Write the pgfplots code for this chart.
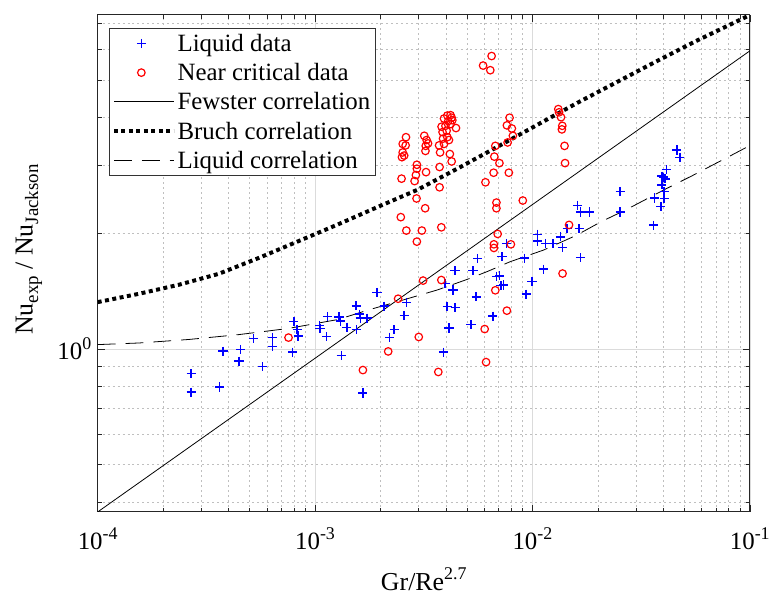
\documentclass[border=0pt]{standalone}
\usepackage{fontspec}
\setmainfont{Liberation Serif}
\usepackage{pgfplots}
\pgfplotsset{compat=1.18}
\newcommand\tsup[1]{\raisebox{0.42em}{\fontsize{18}{18}\selectfont #1}}
\newcommand\tsub[1]{\raisebox{-0.22em}{\fontsize{19}{19}\selectfont #1}}
\begin{document}
\begin{tikzpicture}
\begin{axis}[
  name=ax,
  scale only axis, width=656pt, height=500pt,
  xmode=log, ymode=log,
  xmin=1e-4, xmax=1e-1, ymin=0.377, ymax=7.38,
  xtick={1e-4,1e-3,1e-2,1e-1},
  xticklabels={10\tsup{-4},10\tsup{-3},10\tsup{-2},10\tsup{-1}},
  minor xtick={2e-4,3e-4,4e-4,5e-4,6e-4,7e-4,8e-4,9e-4,2e-3,3e-3,4e-3,5e-3,6e-3,7e-3,8e-3,9e-3,2e-2,3e-2,4e-2,5e-2,6e-2,7e-2,8e-2,9e-2},
  ytick={1}, yticklabels={10\tsup{0}},
  minor ytick={0.4,0.5,0.6,0.7,0.8,0.9,2,3,4,5,6,7},
  tick align=inside, major tick length=7pt, minor tick length=4pt,
  grid=both,
  major grid style={line width=0.6pt, draw=black!14},
  minor grid style={line width=0.6pt, draw=black!25, dash pattern=on 2pt off 3pt},
  axis line style={line width=0.9pt, draw=black!85},
  every tick/.style={black!85, line width=0.6pt},
  tick label style={font=\fontsize{25}{28}\selectfont},
  xticklabel shift=12pt,
  yticklabel shift=3pt,
  every axis x label/.style={at={(axis description cs:0.5,-0.158)}, anchor=base, font=\fontsize{26}{30}\selectfont},
  every axis y label/.style={at={(axis description cs:-0.1056,0.528)}, rotate=90, anchor=center, font=\fontsize{26}{30}\selectfont},
  xlabel={Gr/Re\tsup{2.7}},
  ylabel={Nu\tsub{exp} / Nu\tsub{Jackson}},
  legend cell align=left,
  legend style={at={(0.0168,0.9734)}, anchor=north west, draw=black!80, line width=0.8pt,
    fill=white, font=\fontsize{25}{29}\selectfont, inner xsep=3pt, inner ysep=3.5pt, row sep=6.6pt},
  legend image code/.code={\draw[mark repeat=2,mark phase=2,#1] plot coordinates {(0pt,0pt) (27.5pt,0pt) (55pt,0pt)}; \path (0pt,0pt) -- (60pt,0pt);},
]
\addplot[only marks, mark=+, mark size=4.6pt, color=blue, line width=1.5pt,
  dash pattern=on 0pt off 80pt, mark options={solid, draw=blue, line width=1.5pt}] coordinates {
(2.69e-4,0.862) (2.69e-4,0.772) (3.64e-4,0.796) (3.77e-4,0.986) (4.55e-4,0.996)
(4.47e-4,0.929) (5.72e-4,0.899) (5.21e-4,1.064) (6.36e-4,1.072) (6.36e-4,1.014)
(7.89e-4,0.981) (7.99e-4,1.178) (8.27e-4,1.122) (8.36e-4,1.080) (1.05e-3,1.150)
(1.054e-3,1.130) (1.13e-3,1.076) (1.14e-3,1.215) (1.288e-3,1.210) (1.31e-3,1.181)
(1.32e-3,0.962) (1.40e-3,1.138) (1.548e-3,1.122) (1.545e-3,1.294) (1.60e-3,1.231)
(1.615e-3,1.202) (1.734e-3,1.202) (1.658e-3,0.768) (1.927e-3,1.401) (2.08e-3,1.291)
(2.20e-3,1.072) (2.31e-3,1.122) (2.63e-3,1.320) (2.57e-3,1.222) (3.90e-3,0.981)
(3.96e-3,1.478) (4.31e-3,1.423) (4.05e-3,1.289) (4.41e-3,1.282) (4.13e-3,1.133)
(4.40e-3,1.597) (5.22e-3,1.156) (5.51e-3,1.365) (5.33e-3,1.597) (5.60e-3,1.719)
(7.24e-3,1.736) (9.19e-3,1.722) (1.057e-2,1.986) (1.057e-2,1.905) (1.147e-2,1.879)
(1.242e-2,1.879) (1.347e-2,1.955) (1.376e-2,1.835) (1.445e-2,2.054) (1.64e-2,2.054)
(1.663e-2,1.726) (1.611e-2,2.362) (1.663e-2,2.269) (1.834e-2,2.269) (2.533e-2,2.565)
(2.533e-2,2.269) (1.123e-2,1.612) (9.96e-3,1.499) (9.35e-3,1.387) (7.59e-3,1.879)
(6.83e-3,1.544) (7.06e-3,1.549) (7.16e-3,1.461) (7.37e-3,1.466) (6.58e-3,1.217)
(3.64e-2,2.466) (3.61e-2,2.096) (3.90e-2,2.346) (4.04e-2,2.456) (4.04e-2,2.565)
(3.94e-2,2.669) (4.00e-2,2.794) (4.08e-2,2.766) (4.13e-2,2.924) (3.94e-2,2.811)
(4.62e-2,3.288) (4.77e-2,3.147)
};
\addlegendentry{Liquid data}
\addplot[only marks, mark=o, mark size=3.8pt, color=red, line width=1.2pt,
  dash pattern=on 0pt off 80pt, mark options={solid, draw=red, line width=1.2pt}] coordinates {
(5.93e-3,5.45) (6.49e-3,5.77) (6.40e-3,5.30)
(2.62e-3,3.55) (2.53e-3,3.41) (2.61e-3,3.38) (2.53e-3,3.24) (2.57e-3,3.18) (2.51e-3,3.15)
(3.18e-3,3.58) (3.26e-3,3.49) (3.31e-3,3.42) (3.23e-3,3.37) (3.22e-3,3.27)
(4.06e-3,4.04) (4.20e-3,4.05) (4.25e-3,3.99) (3.92e-3,3.97) (4.10e-3,3.91) (4.28e-3,3.93)
(3.82e-3,3.78) (3.98e-3,3.80) (4.20e-3,3.84) (4.45e-3,3.75) (3.86e-3,3.66) (4.03e-3,3.69)
(3.88e-3,3.52) (4.06e-3,3.55) (4.13e-3,3.49) (3.72e-3,3.38) (3.92e-3,3.41) (3.76e-3,3.24)
(4.17e-3,3.21) (4.25e-3,3.07) (3.74e-3,2.97) (3.74e-3,2.63)
(2.94e-3,3.01) (2.94e-3,2.94) (2.91e-3,2.83) (2.87e-3,2.73) (3.24e-3,2.88) (2.50e-3,2.77)
(2.93e-3,2.46) (3.21e-3,2.32) (2.48e-3,2.20) (2.63e-3,2.03) (3.10e-3,2.03) (2.94e-3,1.90)
(3.81e-3,2.07)
(7.85e-3,3.99) (7.63e-3,3.81) (8.04e-3,3.74) (8.13e-3,3.58) (7.69e-3,3.44) (6.75e-3,3.37)
(6.68e-3,3.16) (7.05e-3,3.04) (6.63e-3,2.87) (7.79e-3,2.87) (6.08e-3,2.71) (6.83e-3,2.40)
(6.83e-3,2.32) (9.03e-3,2.43) (6.92e-3,1.99) (6.65e-3,1.87) (6.65e-3,1.83) (7.96e-3,1.87)
(1.315e-2,4.20) (1.326e-2,4.12) (1.354e-2,4.00) (1.372e-2,3.80) (1.366e-2,3.72)
(1.405e-2,3.37) (1.413e-2,3.04) (1.474e-2,2.10) (1.376e-2,1.57)
(7.55e-4,1.07) (1.66e-3,0.881) (2.17e-3,0.985) (2.41e-3,1.35) (3.00e-3,1.074)
(3.14e-3,1.505) (3.81e-3,1.51) (3.69e-3,0.871) (6.03e-3,1.126) (6.12e-3,0.924)
(6.75e-3,1.42) (7.63e-3,1.257)
};
\addlegendentry{Near critical data}
\addplot[black, line width=0.8pt] coordinates {(1e-4,0.377) (1e-1,5.95)};
\addlegendentry{Fewster correlation}
\addplot[black, line width=4pt, dash pattern=on 4pt off 3.5pt] coordinates {
(1e-4,1.323) (1.551e-4,1.391) (2.364e-4,1.468) (3.602e-4,1.567) (5.489e-4,1.722)
(8.362e-4,1.904) (1.274e-3,2.106) (1.942e-3,2.338) (2.958e-3,2.591) (4.508e-3,2.939)
(6.868e-3,3.346) (1.046e-2,3.815) (1.594e-2,4.347) (2.429e-2,4.926) (3.702e-2,5.582)
(5.640e-2,6.306) (1e-1,7.37)
};
\addlegendentry{Bruch correlation}
\addplot[black, line width=0.8pt, dash pattern=on 18pt off 10pt] coordinates {
(1e-4,1.026) (1.551e-4,1.036) (2.626e-4,1.058) (4.445e-4,1.089) (7.524e-4,1.130)
(1.274e-3,1.192) (1.747e-3,1.261) (2.396e-3,1.327) (3.655e-3,1.423) (5.013e-3,1.516)
(6.186e-3,1.588) (7.899e-3,1.685) (1.123e-2,1.806) (1.594e-2,1.974) (2.075e-2,2.142)
(2.699e-2,2.300) (4.113e-2,2.606) (5.447e-2,2.821) (8.44e-2,3.21) (1e-1,3.376)
};
\addlegendentry{Liquid correlation}
\end{axis}
\path (ax.south west) ++(-98.3pt,-84pt) coordinate (bl);
\path (ax.north east) ++(18.7pt,15pt) coordinate (tr);
\path (bl) rectangle (tr);
\end{tikzpicture}
\end{document}
